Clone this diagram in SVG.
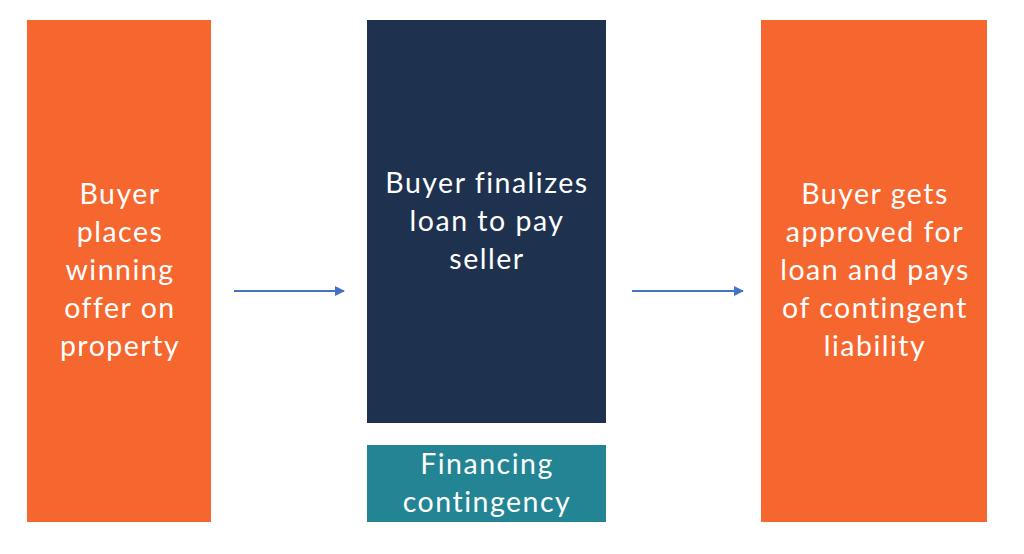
<svg xmlns="http://www.w3.org/2000/svg" width="1024" height="554" viewBox="0 0 1024 554">
<style>
.t{font-family:Lato,"Noto Sans","Liberation Sans",sans-serif;font-size:28.5px;letter-spacing:1.5px;fill:#ffffff;text-anchor:middle}
.c{stroke:#4472C4;stroke-width:2;fill:none}
</style>
<defs>
<marker id="ah" markerWidth="10" markerHeight="10" refX="9" refY="5" orient="auto" markerUnits="userSpaceOnUse">
<path d="M0,0 L10,5 L0,10 Z" fill="#4472C4"/>
</marker>
</defs>
<rect width="1024" height="554" fill="#ffffff"/>
<g id="node-offer">
<rect x="27" y="20" width="184" height="502" fill="#F6662F"/>
<text class="t"><tspan x="120" y="204">Buyer</tspan><tspan x="120" y="242">places</tspan><tspan x="120" y="280">winning</tspan><tspan x="120" y="318">offer on</tspan><tspan x="120" y="356">property</tspan></text>
</g>
<g id="node-finalize">
<rect x="367" y="20" width="239" height="403" fill="#1E3250"/>
<text class="t"><tspan x="487" y="193">Buyer finalizes</tspan><tspan x="487" y="231">loan to pay</tspan><tspan x="487" y="269">seller</tspan></text>
</g>
<g id="node-contingency">
<rect x="367" y="445" width="239" height="77" fill="#238494"/>
<text class="t"><tspan x="487" y="474">Financing</tspan><tspan x="487" y="512">contingency</tspan></text>
</g>
<g id="node-approved">
<rect x="761" y="20" width="226" height="502" fill="#F6662F"/>
<text class="t"><tspan x="875" y="204">Buyer gets</tspan><tspan x="875" y="242">approved for</tspan><tspan x="875" y="280">loan and pays</tspan><tspan x="875" y="318">of contingent</tspan><tspan x="875" y="356">liability</tspan></text>
</g>
<g id="connectors">
<line class="c" x1="234" y1="291" x2="344" y2="291" marker-end="url(#ah)"/>
<line class="c" x1="632" y1="291" x2="743" y2="291" marker-end="url(#ah)"/>
</g>
</svg>
